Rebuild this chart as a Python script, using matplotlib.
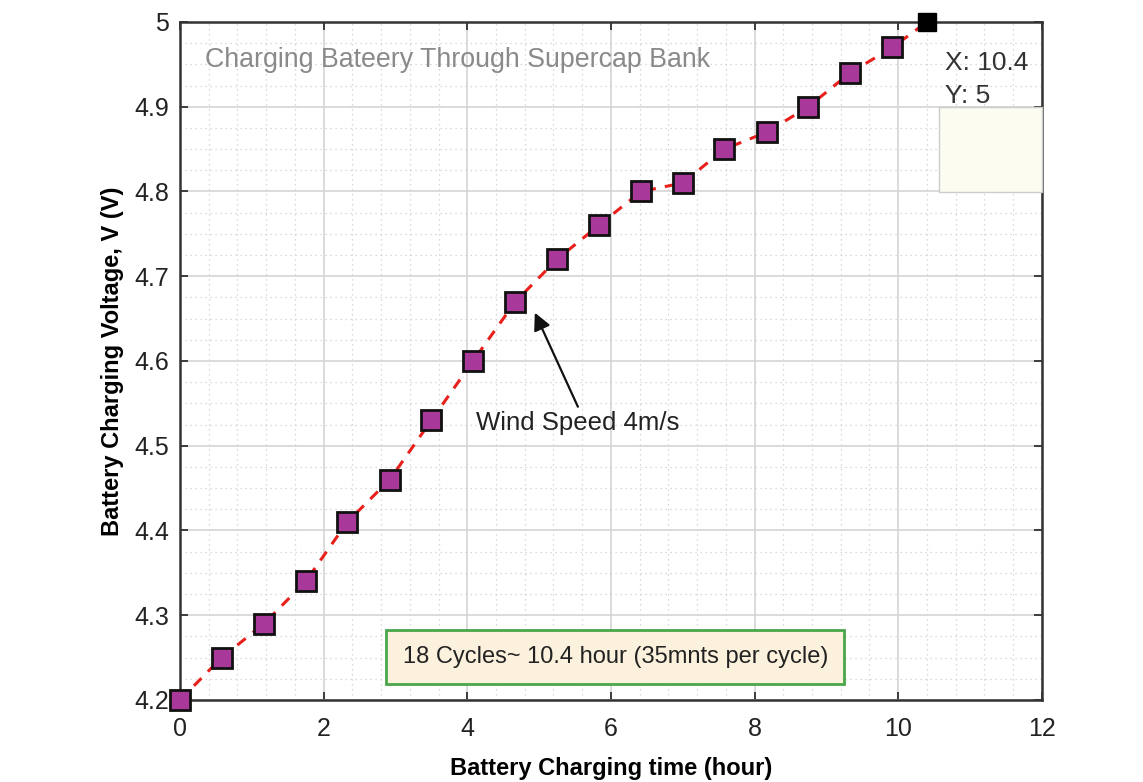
import matplotlib
matplotlib.use("Agg")
import matplotlib.pyplot as plt
from matplotlib.ticker import MultipleLocator
from matplotlib.patches import Rectangle

plt.rcParams['font.family'] = ['Liberation Sans', 'DejaVu Sans']

# Data
time_h = [0, 0.58, 1.17, 1.75, 2.33, 2.92, 3.5, 4.08, 4.67, 5.25, 5.83,
          6.42, 7.0, 7.58, 8.17, 8.75, 9.33, 9.92]
voltage = [4.2, 4.25, 4.29, 4.34, 4.41, 4.46, 4.53, 4.60, 4.67, 4.72, 4.76,
           4.80, 4.81, 4.85, 4.87, 4.90, 4.94, 4.97]
end_point = (10.4, 5.0)

x_ticks = [0, 2, 4, 6, 8, 10, 12]
y_ticks = [4.2, 4.3, 4.4, 4.5, 4.6, 4.7, 4.8, 4.9, 5.0]
y_tick_labels = ['4.2', '4.3', '4.4', '4.5', '4.6', '4.7', '4.8', '4.9', '5']

fig = plt.figure(figsize=(11.43, 7.82), dpi=100)
ax = fig.add_axes([0.1575, 0.1049, 0.754, 0.867])

ax.set_xlim(0, 12)
ax.set_ylim(4.2, 5.0)

ax.xaxis.set_minor_locator(MultipleLocator(0.4))
ax.yaxis.set_minor_locator(MultipleLocator(0.025))
ax.grid(which='major', color='#d4d4d4', linewidth=1.2, linestyle='-')
ax.grid(which='minor', color='#cfcfcf', linewidth=0.9, linestyle=(0, (1, 3)))
ax.set_axisbelow(True)

line_x = time_h + [end_point[0]]
line_y = voltage + [end_point[1]]
ax.plot(line_x, line_y, color='#e8201c', linestyle=(0, (3.5, 3)), linewidth=2.2,
        zorder=3)
ax.plot(time_h, voltage, linestyle='none', marker='s', markersize=14,
        markerfacecolor='#a8399a', markeredgecolor='#111111',
        markeredgewidth=2.0, zorder=4, clip_on=False)
ax.plot([end_point[0]], [end_point[1]], linestyle='none', marker='s',
        markersize=13, markerfacecolor='black', markeredgecolor='black',
        zorder=5, clip_on=False)

ax.set_xticks(x_ticks)
ax.set_yticks(y_ticks)
ax.set_yticklabels(y_tick_labels)
ax.tick_params(which='major', direction='in', length=6, width=1.2,
               top=True, right=True, labelsize=18, colors='#222222')
ax.tick_params(axis='x', which='major', pad=12)
ax.tick_params(axis='y', which='major', pad=8)
ax.tick_params(which='minor', length=0)
for s in ax.spines.values():
    s.set_linewidth(1.8)
    s.set_color('#333333')

ax.set_xlabel('Battery Charging time (hour)', fontsize=17, fontweight='bold',
              labelpad=12)
ax.set_ylabel('Battery Charging Voltage, V (V)', fontsize=17, fontweight='bold',
              labelpad=7)

ax.text(0.35, 4.955, 'Charging Bateery Through Supercap Bank', fontsize=19.3,
        color='#8a8a8a', va='center', ha='left')

ax.annotate('', xy=(4.94, 4.657), xytext=(5.54, 4.546),
            arrowprops=dict(arrowstyle='-|>', color='#111111', lw=1.6,
                            mutation_scale=26, shrinkA=0, shrinkB=0))
ax.text(4.12, 4.527, 'Wind Speed 4m/s', fontsize=18.5, color='#222222',
        va='center', ha='left')

ax.text(6.06, 4.2507, '18 Cycles~ 10.4 hour (35mnts per cycle)', fontsize=17,
        color='#222222', ha='center', va='center',
        bbox=dict(boxstyle='square,pad=0.68', facecolor='#fbf1dc',
                  edgecolor='#4aa64a', linewidth=2))

# Data tip
fig.add_artist(Rectangle((939 / 1143, 1 - 192 / 782), (1042 - 939) / 1143,
                         (192 - 107) / 782, transform=fig.transFigure,
                         facecolor='#fdfcf0', edgecolor='#cccccc',
                         linewidth=1, zorder=6))
fig.text(945 / 1143, 1 - 63 / 782, 'X: 10.4', fontsize=19, color='#333333',
         va='center', ha='left', zorder=7)
fig.text(945 / 1143, 1 - 96 / 782, 'Y: 5', fontsize=19, color='#333333',
         va='center', ha='left', zorder=7)

fig.savefig('out.png', dpi=100)
